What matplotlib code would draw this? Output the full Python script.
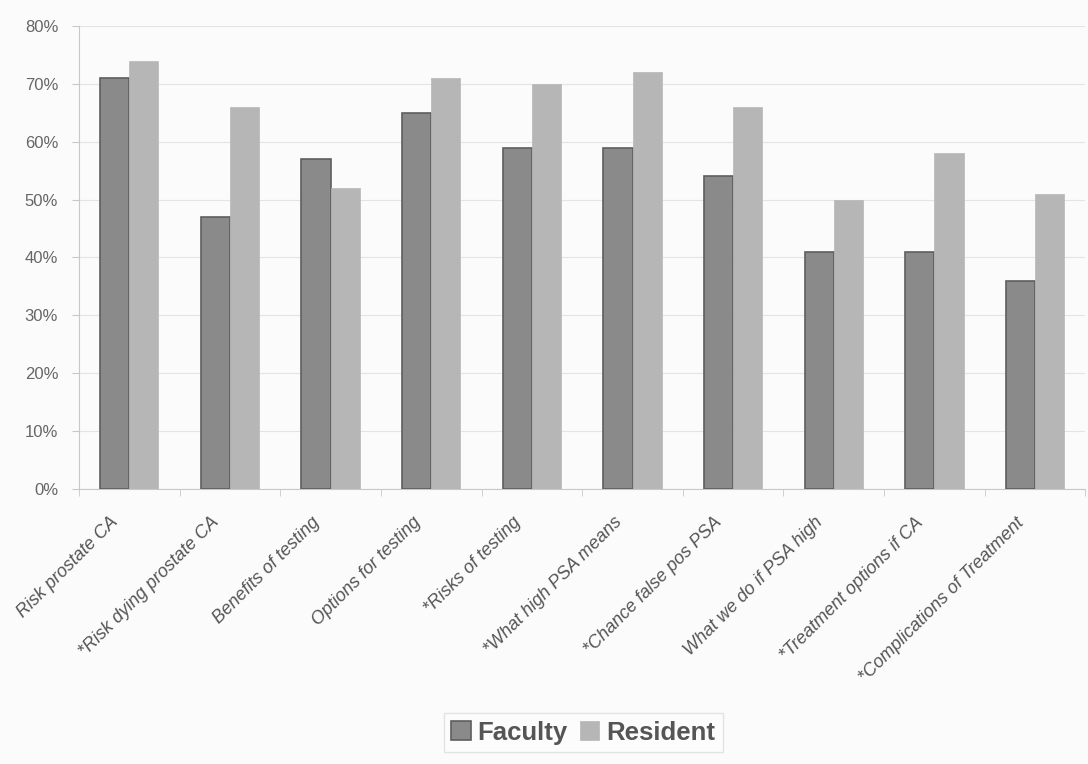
import matplotlib.pyplot as plt
import matplotlib.transforms as mtransforms
import numpy as np
from matplotlib.ticker import PercentFormatter

# dados
categorias = ['Risk prostate CA', '*Risk dying prostate CA', 'Benefits of testing',
              'Options for testing', '*Risks of testing', '*What high PSA means',
              '*Chance false pos PSA', 'What we do if PSA high',
              '*Treatment options if CA', '*Complications of Treatment']
faculty = [71, 47, 57, 65, 59, 59, 54, 41, 41, 36]
resident = [74, 66, 52, 71, 70, 72, 66, 50, 58, 51]

plt.rcParams['font.family'] = ['Liberation Sans', 'DejaVu Sans']

fig = plt.figure(figsize=(10.88, 7.64), dpi=100)
fig.patch.set_facecolor('#fbfbfb')
ax = fig.add_axes([0.0726, 0.36, 0.925, 0.606])
ax.set_facecolor('#fbfbfb')

x = np.arange(len(categorias))
w = 0.29
ax.bar(x - w / 2, faculty, width=w, color='#8a8a8a', edgecolor='#5e5e5e',
       linewidth=1.2, label='Faculty', zorder=3)
ax.bar(x + w / 2, resident, width=w, color='#b6b6b6', edgecolor='#b6b6b6',
       linewidth=0.5, label='Resident', zorder=3)

ax.set_xlim(-0.5, len(categorias) - 0.5)
ax.set_ylim(0, 80)
ax.set_yticks(range(0, 81, 10))
ax.yaxis.set_major_formatter(PercentFormatter(decimals=0))
ax.grid(axis='y', color='#e4e4e4', linewidth=0.8, zorder=0)

# marcas do eixo x nos limites dos grupos
ax.set_xticks(np.arange(len(categorias) + 1) - 0.5, minor=True)
ax.set_xticks(x)
ax.set_xticklabels(categorias, rotation=45, ha='right', va='top',
                   rotation_mode='anchor', fontstyle='italic', fontsize=13,
                   color='#555555')
ax.tick_params(axis='x', which='major', length=0, pad=18)
ax.tick_params(axis='x', which='minor', length=5, color='#c8c8c8')
ax.tick_params(axis='y', length=5, color='#c8c8c8', labelsize=12,
               labelcolor='#666666', pad=10)

# desloca os rótulos um pouco para a esquerda
offset = mtransforms.ScaledTranslation(-14 / 72, 0, fig.dpi_scale_trans)
for lab in ax.get_xticklabels():
    lab.set_transform(lab.get_transform() + offset)

for s in ['top', 'right']:
    ax.spines[s].set_visible(False)
for s in ['left', 'bottom']:
    ax.spines[s].set_color('#c8c8c8')

leg = fig.legend(loc='center', bbox_to_anchor=(0.536, 0.041), ncol=2,
                 prop={'weight': 'bold', 'size': 18.5}, frameon=True,
                 fancybox=False, edgecolor='#dddddd', handlelength=0.75,
                 handleheight=0.75, handletextpad=0.25, columnspacing=0.5,
                 borderpad=0.3)
leg.get_frame().set_facecolor('#fdfdfd')
for t in leg.get_texts():
    t.set_color('#555555')

fig.savefig('out.png', dpi=100, facecolor=fig.get_facecolor())
